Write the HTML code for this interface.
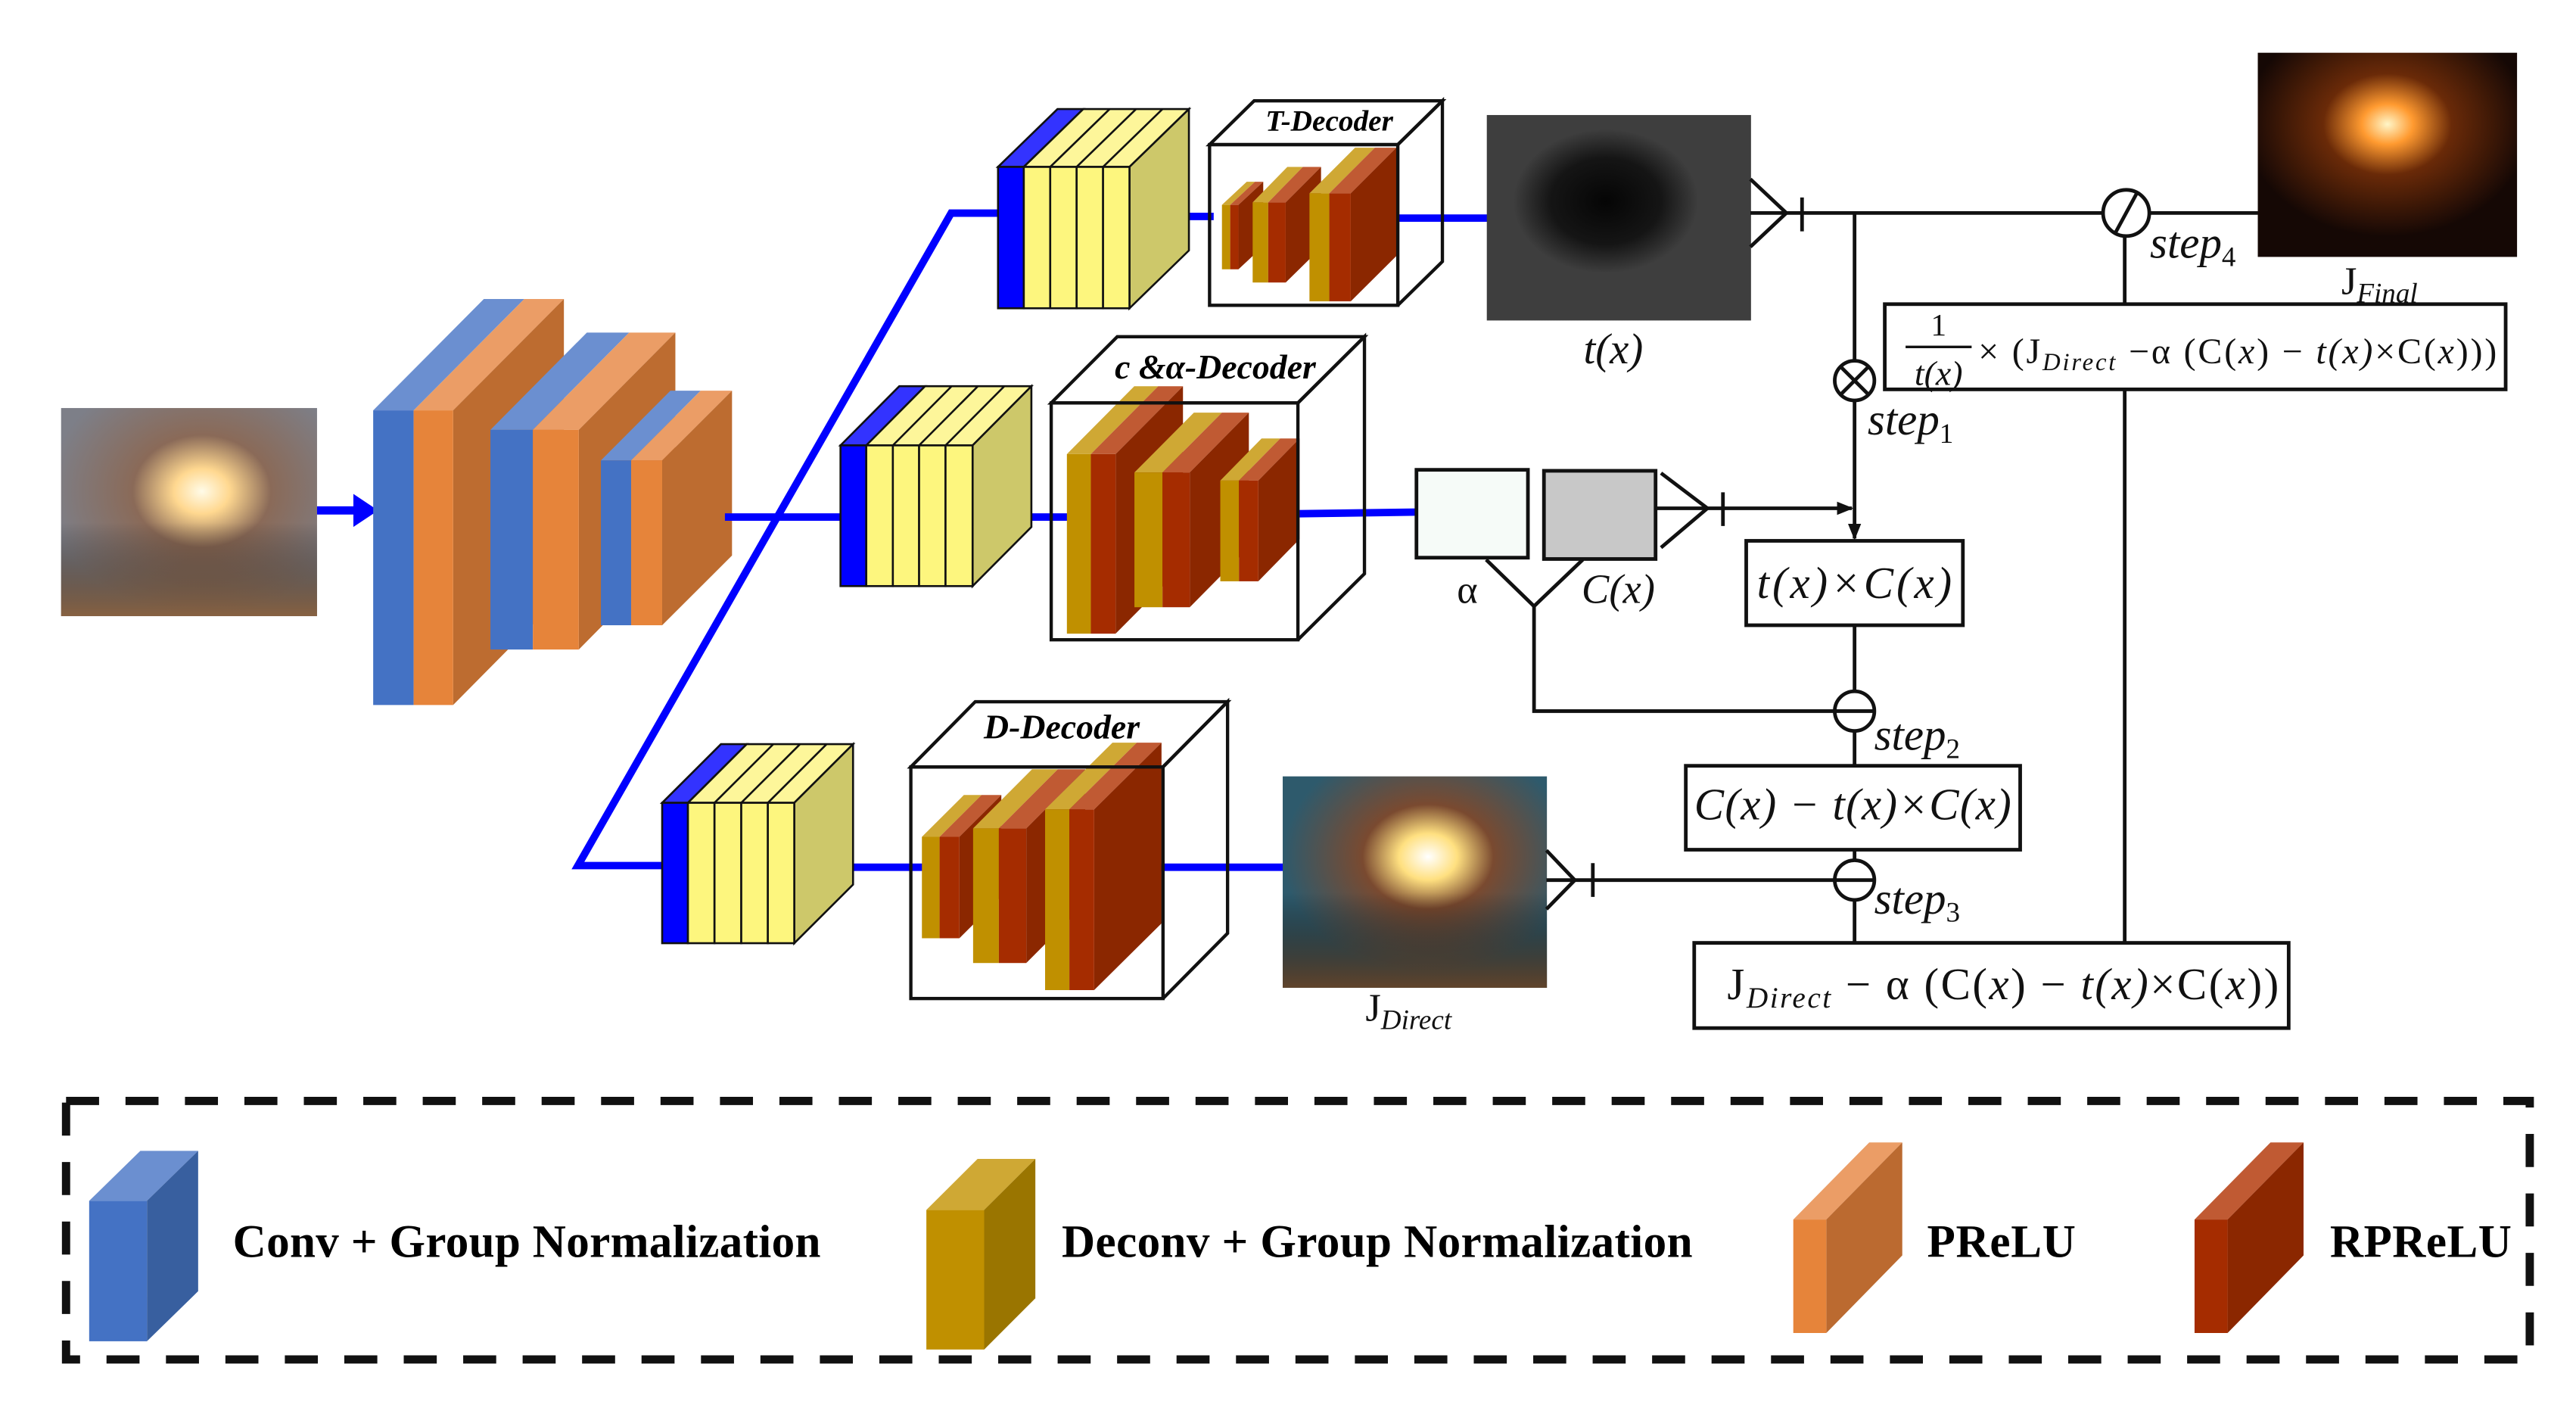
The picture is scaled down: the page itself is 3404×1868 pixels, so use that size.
<!DOCTYPE html>
<html><head><meta charset="utf-8"><style>
html,body{margin:0;padding:0;background:#fff}
svg{display:block}
.m{font-family:"Liberation Serif","DejaVu Serif",serif;font-style:italic}
.u{font-family:"Liberation Serif","DejaVu Serif",serif}
.t{font-family:"Liberation Serif",serif;font-style:italic;font-weight:bold}
.lg{font-family:"Liberation Serif",serif;font-weight:bold;font-size:28px}
</style></head><body>
<svg width="3404" height="1868" viewBox="0 0 1560 856" xmlns="http://www.w3.org/2000/svg">
<defs>
<radialGradient id="g1" cx="0.55" cy="0.4" r="0.6"><stop offset="0" stop-color="#fffbe8"/><stop offset="0.18" stop-color="#ffd890"/><stop offset="0.45" stop-color="#8a6a58"/><stop offset="1" stop-color="#7d7f88"/></radialGradient>
<linearGradient id="g1b" x1="0" y1="0" x2="0" y2="1"><stop offset="0.55" stop-color="#000" stop-opacity="0"/><stop offset="1" stop-color="#8a5a30" stop-opacity="0.8"/></linearGradient>
<radialGradient id="g2" cx="0.45" cy="0.42" r="0.35"><stop offset="0" stop-color="#050505"/><stop offset="0.6" stop-color="#151515"/><stop offset="1" stop-color="#3e3e3e"/></radialGradient>
<radialGradient id="g3" cx="0.55" cy="0.38" r="0.55"><stop offset="0" stop-color="#ffffff"/><stop offset="0.2" stop-color="#ffe080"/><stop offset="0.45" stop-color="#7a4a30"/><stop offset="1" stop-color="#2e5a6c"/></radialGradient>
<linearGradient id="g3b" x1="0" y1="0" x2="0" y2="1"><stop offset="0.55" stop-color="#000" stop-opacity="0"/><stop offset="1" stop-color="#6a4020" stop-opacity="0.85"/></linearGradient>
<radialGradient id="g4" cx="0.5" cy="0.35" r="0.55"><stop offset="0" stop-color="#fff6c8"/><stop offset="0.18" stop-color="#ff9a30"/><stop offset="0.45" stop-color="#6a2a08"/><stop offset="1" stop-color="#150805"/></radialGradient>
<marker id="ar" markerWidth="10" markerHeight="10" refX="9" refY="5" orient="auto" markerUnits="userSpaceOnUse"><path d="M0,1 L10,5 L0,9 Z" fill="#111"/></marker>
</defs>

<rect x="37" y="247" width="155" height="126" fill="url(#g1)"/>
<rect x="37" y="247" width="155" height="126" fill="url(#g1b)"/>
<line x1="192" y1="309" x2="216" y2="309" stroke="#0000ff" stroke-width="5"/>
<path d="M214,299 L229,309 L214,319 Z" fill="#0000ff"/>

<g>
<polygon points="226,248.4 293,181 317.5,181 250.5,248.4" fill="#6b8fd0"/>
<polygon points="250.5,248.4 317.5,181 341.5,181 274.4,248.4" fill="#eb9d66"/>
<polygon points="274.4,248.4 341.5,181 341.5,359 274.4,426.8" fill="#bd6c30"/>
<rect x="226" y="248.4" width="24.5" height="178.4" fill="#4472c4"/>
<rect x="250.5" y="248.4" width="23.9" height="178.4" fill="#e6843a"/>
<polygon points="297,260.2 355.4,201.3 381,201.3 322.7,260.2" fill="#6b8fd0"/>
<polygon points="322.7,260.2 381,201.3 409,201.3 350.5,260.2" fill="#eb9d66"/>
<polygon points="350.5,260.2 409,201.3 409,334 350.5,393.2" fill="#bd6c30"/>
<rect x="297" y="260.2" width="25.7" height="133" fill="#4472c4"/>
<rect x="322.7" y="260.2" width="27.8" height="133" fill="#e6843a"/>
<polygon points="363.9,278.7 406,236.5 424.3,236.5 382.2,278.7" fill="#6b8fd0"/>
<polygon points="382.2,278.7 424.3,236.5 443.3,236.5 401,278.7" fill="#eb9d66"/>
<polygon points="401,278.7 443.3,236.5 443.3,336.3 401,378.5" fill="#bd6c30"/>
<rect x="363.9" y="278.7" width="18.3" height="99.8" fill="#4472c4"/>
<rect x="382.2" y="278.7" width="18.8" height="99.8" fill="#e6843a"/>
</g>

<g stroke="#0000ff" stroke-width="4.5" fill="none">
<line x1="439" y1="313" x2="512" y2="313"/>
<polyline points="605,129 576,129 350,524 402,524"/>
<line x1="684" y1="131" x2="735" y2="131"/>
<line x1="846" y1="132" x2="902" y2="132"/>
<line x1="589" y1="313" x2="648" y2="313"/>
<line x1="786" y1="311" x2="858" y2="310"/>
<line x1="516" y1="525" x2="560" y2="525"/>
<line x1="703" y1="525" x2="778" y2="525"/>
</g>

<g stroke="#111" stroke-width="1.2">
<polygon points="604.4,101 640.4,66 656,66 620,101" fill="#3333ff"/>
<polygon points="620,101 656,66 720,66 684,101" fill="#fdf69a"/>
<line x1="636" y1="101" x2="672" y2="66"/><line x1="652" y1="101" x2="688" y2="66"/><line x1="668" y1="101" x2="704" y2="66"/>
<polygon points="684,101 720,66 720,151.6 684,186.6" fill="#cdc86a"/>
<rect x="604.4" y="101" width="15.6" height="85.6" fill="#0000ff"/>
<rect x="620" y="101" width="16" height="85.6" fill="#fdf67e"/><rect x="636" y="101" width="16" height="85.6" fill="#fdf67e"/><rect x="652" y="101" width="16" height="85.6" fill="#fdf67e"/><rect x="668" y="101" width="16" height="85.6" fill="#fdf67e"/>
<polygon points="509,269.6 544.6,233.8 560.2,233.8 524.6,269.6" fill="#3333ff"/>
<polygon points="524.6,269.6 560.2,233.8 624.6,233.8 589,269.6" fill="#fdf69a"/>
<line x1="540.7" y1="269.6" x2="576.3" y2="233.8"/><line x1="556.6" y1="269.6" x2="592.2" y2="233.8"/><line x1="572.6" y1="269.6" x2="608.2" y2="233.8"/>
<polygon points="589,269.6 624.6,233.8 624.6,319 589,354.8" fill="#cdc86a"/>
<rect x="509" y="269.6" width="15.6" height="85.2" fill="#0000ff"/>
<rect x="524.6" y="269.6" width="16.1" height="85.2" fill="#fdf67e"/><rect x="540.7" y="269.6" width="15.9" height="85.2" fill="#fdf67e"/><rect x="556.6" y="269.6" width="16" height="85.2" fill="#fdf67e"/><rect x="572.6" y="269.6" width="16.4" height="85.2" fill="#fdf67e"/>
<polygon points="401,486 436.6,450.5 452.2,450.5 416.6,486" fill="#3333ff"/>
<polygon points="416.6,486 452.2,450.5 516.6,450.5 481,486" fill="#fdf69a"/>
<line x1="432.7" y1="486" x2="468.3" y2="450.5"/><line x1="448.9" y1="486" x2="484.5" y2="450.5"/><line x1="465" y1="486" x2="500.6" y2="450.5"/>
<polygon points="481,486 516.6,450.5 516.6,535.5 481,571" fill="#cdc86a"/>
<rect x="401" y="486" width="15.6" height="85" fill="#0000ff"/>
<rect x="416.6" y="486" width="16.1" height="85" fill="#fdf67e"/><rect x="432.7" y="486" width="16.2" height="85" fill="#fdf67e"/><rect x="448.9" y="486" width="16.1" height="85" fill="#fdf67e"/><rect x="465" y="486" width="16" height="85" fill="#fdf67e"/>
</g>

<g stroke="#111" stroke-width="2" fill="none">
<polygon points="732.5,87.5 759.5,61 873.5,61 846.5,87.5"/>
<polyline points="846.5,87.5 873.5,61 873.5,158.3 846.5,184.8"/>
<polygon points="636.6,243.9 676.6,203.8 826.3,203.8 786,243.9"/>
<polyline points="786,243.9 826.3,203.8 826.3,347.3 786,387.3"/>
<polygon points="551.6,464.3 590.6,424.8 743.4,424.8 704.3,464.3"/>
<polyline points="704.3,464.3 743.4,424.8 743.4,565 704.3,604.5"/>
</g>

<g>
<polygon points="740,124 755,110 760,110 745,124" fill="#cfa834"/><polygon points="745,124 760,110 765,110 750,124" fill="#c05a33"/><polygon points="750,124 765,110 765,149 750,163" fill="#8b2700"/>
<rect x="740" y="124" width="5" height="39" fill="#c09000"/><rect x="745" y="124" width="5" height="39" fill="#a52c00"/>
<polygon points="758.6,122.5 779.6,101 789,101 768,122.5" fill="#cfa834"/><polygon points="768,122.5 789,101 800,101 778.6,122.5" fill="#c05a33"/><polygon points="778.6,122.5 800,101 800,150 778.6,171" fill="#8b2700"/>
<rect x="758.6" y="122.5" width="9.4" height="48.5" fill="#c09000"/><rect x="768" y="122.5" width="10.6" height="48.5" fill="#a52c00"/>
<polygon points="793,117 820.6,89.4 832.6,89.4 805,117" fill="#cfa834"/><polygon points="805,117 832.6,89.4 845.6,89.4 818,117" fill="#c05a33"/><polygon points="818,117 845.6,89.4 845.6,155 818,182.4" fill="#8b2700"/>
<rect x="793" y="117" width="12" height="65.4" fill="#c09000"/><rect x="805" y="117" width="13" height="65.4" fill="#a52c00"/>
<polygon points="646.1,274.9 686.9,233.8 701.4,233.8 660.6,274.9" fill="#cfa834"/><polygon points="660.6,274.9 701.4,233.8 716.4,233.8 675.6,274.9" fill="#c05a33"/><polygon points="675.6,274.9 716.4,233.8 716.4,342.6 675.6,383.6" fill="#8b2700"/>
<rect x="646.1" y="274.9" width="14.5" height="108.7" fill="#c09000"/><rect x="660.6" y="274.9" width="15" height="108.7" fill="#a52c00"/>
<polygon points="687,286 723,249.8 740,249.8 704,286" fill="#cfa834"/><polygon points="704,286 740,249.8 756.3,249.8 720.5,286" fill="#c05a33"/><polygon points="720.5,286 756.3,249.8 756.3,331.4 720.5,367.6" fill="#8b2700"/>
<rect x="687" y="286" width="17" height="81.6" fill="#c09000"/><rect x="704" y="286" width="16.5" height="81.6" fill="#a52c00"/>
<polygon points="739,290.9 764,265.4 775.3,265.4 750.3,290.9" fill="#cfa834"/><polygon points="750.3,290.9 775.3,265.4 787,265.4 762,290.9" fill="#c05a33"/><polygon points="762,290.9 787,265.4 787,326.4 762,351.9" fill="#8b2700"/>
<rect x="739" y="290.9" width="11.3" height="61" fill="#c09000"/><rect x="750.3" y="290.9" width="11.7" height="61" fill="#a52c00"/>
<polygon points="558.3,506.6 583.7,481.3 594.4,481.3 569,506.6" fill="#cfa834"/><polygon points="569,506.6 594.4,481.3 606.4,481.3 581,506.6" fill="#c05a33"/><polygon points="581,506.6 606.4,481.3 606.4,542.7 581,568" fill="#8b2700"/>
<rect x="558.3" y="506.6" width="10.7" height="61.4" fill="#c09000"/><rect x="569" y="506.6" width="12" height="61.4" fill="#a52c00"/>
<polygon points="589.3,501.5 625,465.7 640.6,465.7 604.9,501.5" fill="#cfa834"/><polygon points="604.9,501.5 640.6,465.7 657.2,465.7 621.5,501.5" fill="#c05a33"/><polygon points="621.5,501.5 657.2,465.7 657.2,547.2 621.5,583" fill="#8b2700"/>
<rect x="589.3" y="501.5" width="15.6" height="81.5" fill="#c09000"/><rect x="604.9" y="501.5" width="16.6" height="81.5" fill="#a52c00"/>
<polygon points="632.9,490 673.7,449.6 688.4,449.6 647.6,490" fill="#cfa834"/><polygon points="647.6,490 688.4,449.6 703.4,449.6 662.6,490" fill="#c05a33"/><polygon points="662.6,490 703.4,449.6 703.4,559 662.6,599.4" fill="#8b2700"/>
<rect x="632.9" y="490" width="14.7" height="109.4" fill="#c09000"/><rect x="647.6" y="490" width="15" height="109.4" fill="#a52c00"/>
</g>

<g stroke="#111" stroke-width="2" fill="none">
<rect x="732.5" y="87.5" width="114" height="97.3"/>
<rect x="636.6" y="243.9" width="149.4" height="143.4"/>
<rect x="551.6" y="464.3" width="152.7" height="140.2"/>
</g>
<text class="t" x="805" y="79" font-size="18" text-anchor="middle">T-Decoder</text>
<text class="t" x="736" y="229" font-size="21" text-anchor="middle">c &amp;α-Decoder</text>
<text class="t" x="643" y="447" font-size="21" text-anchor="middle">D-Decoder</text>

<rect x="900.4" y="69.6" width="160" height="124.4" fill="url(#g2)"/>
<rect x="776.8" y="470" width="160" height="128" fill="url(#g3)"/>
<rect x="776.8" y="470" width="160" height="128" fill="url(#g3b)"/>
<rect x="1367.3" y="31.9" width="157" height="123.6" fill="url(#g4)"/>

<g stroke="#111" stroke-width="2.2" fill="none">
<polyline points="1060,108.4 1081.8,128.9 1060,149.4"/>
<line x1="1060" y1="128.9" x2="1273.6" y2="128.9"/>
<line x1="1091.3" y1="119.5" x2="1091.3" y2="140"/>
<line x1="1301.6" y1="128.9" x2="1367.3" y2="128.9"/>
<circle cx="1287.6" cy="128.9" r="14"/>
<line x1="1281" y1="141" x2="1294" y2="117"/>
<line x1="1123.1" y1="128.9" x2="1123.1" y2="218.4"/>
<line x1="1123.1" y1="242.4" x2="1123.1" y2="326" marker-end="url(#ar)"/>
<circle cx="1123.1" cy="230.4" r="12"/>
<line x1="1114.6" y1="221.9" x2="1131.6" y2="238.9"/><line x1="1131.6" y1="221.9" x2="1114.6" y2="238.9"/>
<line x1="1286.7" y1="142.9" x2="1286.7" y2="184.1"/>
<line x1="1286.7" y1="235.7" x2="1286.7" y2="570.8"/>
<rect x="1141.4" y="184.1" width="376" height="51.6"/>
<rect x="857.8" y="284.4" width="67.5" height="53.2" fill="#f6fbf8"/>
<rect x="935" y="285" width="67.6" height="53.4" fill="#c8c8c8"/>
<polyline points="1005.9,286.4 1034,307.7 1005.9,331.5"/>
<line x1="1002.6" y1="307.7" x2="1121.5" y2="307.7" marker-end="url(#ar)"/>
<line x1="1043.4" y1="298" x2="1043.4" y2="318.4"/>
<polyline points="900,338.8 929,367 958.5,338.8"/>
<polyline points="929,367 929,430.5 1111.1,430.5"/>
<rect x="1057.5" y="327.4" width="131.2" height="51.1"/>
<line x1="1123.1" y1="378.5" x2="1123.1" y2="418.5"/>
<circle cx="1123.1" cy="430.5" r="12"/>
<line x1="1111.1" y1="430.5" x2="1135.1" y2="430.5"/>
<line x1="1123.1" y1="442.5" x2="1123.1" y2="463.6"/>
<rect x="1020.9" y="463.6" width="202.5" height="50.8"/>
<line x1="1123.1" y1="514.4" x2="1123.1" y2="520.8"/>
<circle cx="1123.1" cy="532.8" r="12"/>
<line x1="1111.1" y1="532.8" x2="1135.1" y2="532.8"/>
<polyline points="936.5,514.8 953.7,532.8 936.5,550.4"/>
<line x1="936.5" y1="532.8" x2="1111.1" y2="532.8"/>
<line x1="964.6" y1="522.5" x2="964.6" y2="543"/>
<line x1="1123.1" y1="544.8" x2="1123.1" y2="570.8"/>
<rect x="1026" y="570.8" width="360" height="51.6"/>
</g>

<g fill="#111">
<text class="m" x="977" y="220" font-size="26" text-anchor="middle">t(x)</text>
<text class="u" x="1441" y="178" font-size="24" text-anchor="middle">J<tspan class="m" font-size="17" dy="5">Final</tspan></text>
<text class="m" x="1302" y="156" font-size="27">step<tspan font-size="17" dy="5" font-style="normal">4</tspan></text>
<text class="m" x="1131" y="263" font-size="27">step<tspan font-size="17" dy="5" font-style="normal">1</tspan></text>
<text class="m" x="1135" y="454" font-size="27">step<tspan font-size="17" dy="5" font-style="normal">2</tspan></text>
<text class="m" x="1135" y="553" font-size="27">step<tspan font-size="17" dy="5" font-style="normal">3</tspan></text>
<text class="u" x="888.6" y="365" font-size="24" text-anchor="middle">α</text>
<text class="m" x="980" y="365" font-size="25" text-anchor="middle">C(x)</text>
<text class="u" x="853" y="618" font-size="24" text-anchor="middle">J<tspan class="m" font-size="17" dy="5">Direct</tspan></text>
<text class="m" x="1123" y="362" font-size="27" text-anchor="middle" textLength="118">t(x)<tspan class="u">×C(</tspan>x<tspan class="u">)</tspan></text>
<text class="m" x="1122" y="496" font-size="27" text-anchor="middle" textLength="192"><tspan class="u">C(</tspan>x<tspan class="u">) − </tspan>t(x)<tspan class="u">×C(</tspan>x<tspan class="u">)</tspan></text>
<text class="u" x="1046" y="605" font-size="27" textLength="334">J<tspan class="m" font-size="18" dy="5">Direct</tspan><tspan dy="-5"> − α  (C(</tspan><tspan class="m">x</tspan>) − <tspan class="m">t(x)</tspan>×C(<tspan class="m">x</tspan>))</text>
<text class="u" x="1174" y="203" font-size="19" text-anchor="middle">1</text>
<line x1="1154" y1="210" x2="1194" y2="210" stroke="#111" stroke-width="1.5"/>
<text class="m" x="1174" y="233" font-size="21" text-anchor="middle">t(x)</text>
<text class="u" x="1198" y="220" font-size="22" textLength="314">× (J<tspan class="m" font-size="15" dy="4">Direct</tspan><tspan dy="-4"> −α  (C(</tspan><tspan class="m">x</tspan>) − <tspan class="m">t(x)</tspan>×C(<tspan class="m">x</tspan>)))</text>
</g>

<rect x="40" y="666.5" width="1492" height="156.5" fill="none" stroke="#111" stroke-width="5" stroke-dasharray="20 16"/>
<polygon points="54,727 85,696.7 120,696.7 89,727" fill="#6b8fd0"/>
<polygon points="89,727 120,696.7 120,781.7 89,812" fill="#385f9f"/>
<rect x="54" y="727" width="35" height="85" fill="#4472c4"/>
<text class="lg" x="141" y="761" textLength="356">Conv + Group Normalization</text>
<polygon points="561,732.5 592,701.6 627,701.6 596,732.5" fill="#cfa834"/>
<polygon points="596,732.5 627,701.6 627,786 596,817" fill="#9a7500"/>
<rect x="561" y="732.5" width="35" height="84.5" fill="#c09000"/>
<text class="lg" x="643" y="761" textLength="382">Deconv + Group Normalization</text>
<polygon points="1086,738.3 1132,691.6 1152,691.6 1106,738.3" fill="#eb9d66"/>
<polygon points="1106,738.3 1152,691.6 1152,760 1106,807" fill="#bb6a30"/>
<rect x="1086" y="738.3" width="20" height="68.7" fill="#e6843a"/>
<text class="lg" x="1167" y="761" textLength="90">PReLU</text>
<polygon points="1329,738.3 1375,691.6 1395,691.6 1349,738.3" fill="#c05a33"/>
<polygon points="1349,738.3 1395,691.6 1395,760 1349,807" fill="#8b2700"/>
<rect x="1329" y="738.3" width="20" height="68.7" fill="#a52c00"/>
<text class="lg" x="1411" y="761" textLength="110">RPReLU</text>
</svg>
</body></html>
